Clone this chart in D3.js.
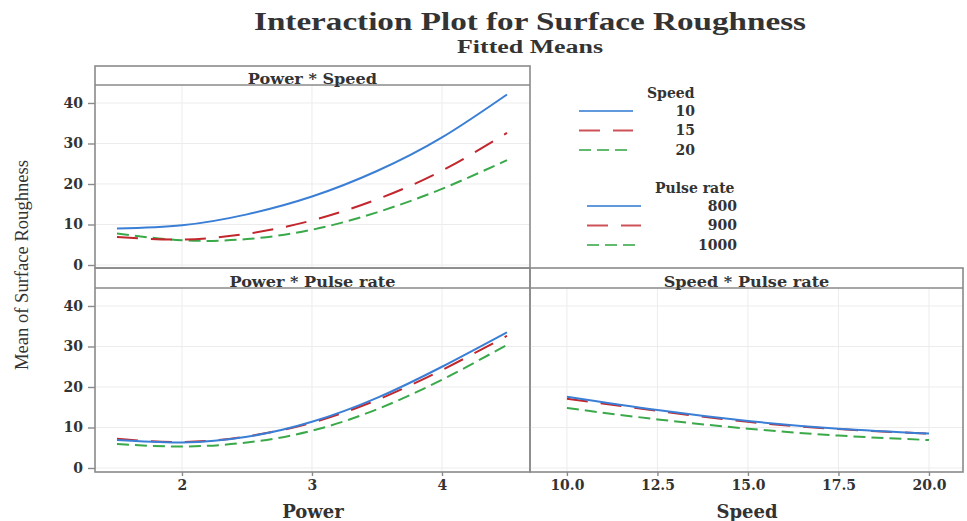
<!DOCTYPE html>
<html>
<head>
<meta charset="utf-8">
<script src="https://cdn.jsdelivr.net/npm/d3@7"></script>
<style>
  body { margin: 0; background: #fff; }
</style>
</head>
<body>
<div id="vis"></div>
<script>
var width = 967;
var height = 521;

// data
var powerLevels = [1.5, 2, 2.5, 3, 3.5, 4, 4.5];
var speedLevels = [10, 12.5, 15, 17.5, 20];
var speedNames = ["10", "15", "20"];
var pulseNames = ["800", "900", "1000"];

var powerSpeed10 = [9.0, 9.8, 12.5, 16.9, 23.2, 31.5, 42.1];
var powerSpeed15 = [6.9, 6.3, 7.7, 11.0, 16.2, 23.3, 32.6];
var powerSpeed20 = [7.8, 6.1, 6.4, 8.7, 13.0, 18.8, 25.9];

var powerPulse800 = [6.9, 6.3, 7.7, 11.4, 17.3, 25.0, 33.5];
var powerPulse900 = [7.2, 6.4, 7.8, 11.2, 16.8, 24.2, 32.6];
var powerPulse1000 = [5.9, 5.3, 6.3, 9.2, 14.5, 21.8, 30.4];

var speedPulse800 = [17.6, 14.3, 11.6, 9.7, 8.5];
var speedPulse900 = [17.1, 14.1, 11.4, 9.6, 8.5];
var speedPulse1000 = [14.8, 12.0, 9.7, 8.0, 6.9];

var powerTicks = [2, 3, 4];
var speedTicks = [10, 12.5, 15, 17.5, 20];
var yTicks = [0, 10, 20, 30, 40];

var colors = ["#3a7fd5", "#c1272d", "#3aa94a"];
var dashes = [null, "21,13", "12,6"];
var frame = "#8a8a8a";
var serif = "'DejaVu Serif', serif";

var svg = d3.select("#vis")
  .append("svg")
  .attr("width", width)
  .attr("height", height)
  .attr("viewBox", [0, 0, width, height]);

// scales
var xPower = d3.scaleLinear().domain([1.331, 4.677]).range([95, 530]);
var xSpeed = d3.scaleLinear().domain([8.98, 20.94]).range([530, 963]);
var yTop = d3.scaleLinear().domain([-0.74, 44.44]).range([268, 85]);
var yBot = d3.scaleLinear().domain([-0.99, 44.44]).range([472, 288]);

var panels = [
  {name: "Power * Speed", x: xPower, y: yTop, top: 66, strip: 85, xs: powerLevels, xt: powerTicks,
   series: [powerSpeed20, powerSpeed15, powerSpeed10], order: [2, 1, 0]},
  {name: "Power * Pulse rate", x: xPower, y: yBot, top: 268, strip: 288, xs: powerLevels, xt: powerTicks,
   series: [powerPulse1000, powerPulse900, powerPulse800], order: [2, 1, 0]},
  {name: "Speed * Pulse rate", x: xSpeed, y: yBot, top: 268, strip: 288, xs: speedLevels, xt: speedTicks,
   series: [speedPulse1000, speedPulse900, speedPulse800], order: [2, 1, 0]}
];

panels.forEach(function(p) {
  var g = svg.append("g");
  var x0 = p.x.range()[0], x1 = p.x.range()[1];
  var yb = p.y.range()[0];

  // grid
  g.append("g")
    .selectAll("line")
    .data(p.xt)
    .enter()
    .append("line")
    .attr("x1", d => p.x(d)).attr("x2", d => p.x(d))
    .attr("y1", p.strip).attr("y2", yb)
    .attr("stroke", "#ececec");
  g.append("g")
    .selectAll("line")
    .data(yTicks)
    .enter()
    .append("line")
    .attr("x1", x0).attr("x2", x1)
    .attr("y1", d => p.y(d)).attr("y2", d => p.y(d))
    .attr("stroke", "#ececec");

  // curves
  var line = d3.line()
    .x((d, i) => p.x(p.xs[i]))
    .y(d => p.y(d))
    .curve(d3.curveNatural);

  g.append("g")
    .attr("fill", "none")
    .selectAll("path")
    .data(p.series)
    .enter()
    .append("path")
    .attr("d", d => line(d))
    .attr("stroke", (d, i) => colors[p.order[i]])
    .attr("stroke-dasharray", (d, i) => dashes[p.order[i]])
    .attr("stroke-width", 2);

  // frame and strip
  g.append("rect")
    .attr("x", x0).attr("y", p.top)
    .attr("width", x1 - x0).attr("height", yb - p.top)
    .attr("fill", "none")
    .attr("stroke", frame)
    .attr("stroke-width", 1.6);
  g.append("line")
    .attr("x1", x0).attr("x2", x1)
    .attr("y1", p.strip).attr("y2", p.strip)
    .attr("stroke", frame)
    .attr("stroke-width", 1.6);
  g.append("text")
    .attr("x", (x0 + x1) / 2)
    .attr("y", p.strip - 1)
    .attr("text-anchor", "middle")
    .style("font", "bold 14px " + serif)
    .attr("fill", "#333")
    .text(p.name)
    .each(function() {
      var w = this.getComputedTextLength();
      d3.select(this).attr("textLength", w * 1.15).attr("lengthAdjust", "spacingAndGlyphs");
    });
});

// axes
function styleAxis(sel) {
  sel.select(".domain").remove();
  sel.selectAll(".tick line").attr("stroke", frame).attr("stroke-width", 1.4);
  sel.selectAll(".tick text")
    .attr("fill", "#333")
    .style("font", "bold 14px " + serif);
}

svg.append("g")
  .attr("transform", "translate(95,0)")
  .call(d3.axisLeft(yTop).tickValues(yTicks).tickSize(7).tickPadding(5))
  .call(styleAxis);
svg.append("g")
  .attr("transform", "translate(95,0)")
  .call(d3.axisLeft(yBot).tickValues(yTicks).tickSize(7).tickPadding(5))
  .call(styleAxis);
svg.append("g")
  .attr("transform", "translate(0,472)")
  .call(d3.axisBottom(xPower).tickValues(powerTicks).tickFormat(d3.format("d")).tickSize(4).tickPadding(4))
  .call(styleAxis);
svg.append("g")
  .attr("transform", "translate(0,472)")
  .call(d3.axisBottom(xSpeed).tickValues(speedTicks).tickFormat(d3.format(".1f")).tickSize(4).tickPadding(4))
  .call(styleAxis);

// titles
svg.append("text")
  .attr("x", 530).attr("y", 30)
  .attr("text-anchor", "middle")
  .attr("fill", "#333")
  .attr("textLength", 552).attr("lengthAdjust", "spacingAndGlyphs")
  .style("font", "bold 25px 'Liberation Serif', serif")
  .text("Interaction Plot for Surface Roughness");
svg.append("text")
  .attr("x", 530).attr("y", 53)
  .attr("text-anchor", "middle")
  .attr("fill", "#333")
  .attr("textLength", 146).attr("lengthAdjust", "spacingAndGlyphs")
  .style("font", "bold 18px 'Liberation Serif', serif")
  .text("Fitted Means");
svg.append("text")
  .attr("transform", "translate(28,265) rotate(-90)")
  .attr("text-anchor", "middle")
  .attr("fill", "#333")
  .attr("textLength", 210).attr("lengthAdjust", "spacingAndGlyphs")
  .style("font", "19px 'Liberation Serif', serif")
  .text("Mean of Surface Roughness");
svg.append("text")
  .attr("x", 313).attr("y", 518)
  .attr("text-anchor", "middle")
  .attr("fill", "#333")
  .style("font", "bold 18px " + serif)
  .text("Power");
svg.append("text")
  .attr("x", 747).attr("y", 518)
  .attr("text-anchor", "middle")
  .attr("fill", "#333")
  .style("font", "bold 18px " + serif)
  .text("Speed");

// legends
function legend(title, names, lx0, lx1, ly, tx, labelEnd) {
  var g = svg.append("g");
  g.append("text")
    .attr("x", tx).attr("y", ly + 5)
    .attr("fill", "#333")
    .style("font", "bold 14px " + serif)
    .text(title);
  var rows = g.selectAll("g.row")
    .data(names)
    .enter()
    .append("g")
    .attr("transform", (d, i) => "translate(0," + (ly + 18 + i * 19.5) + ")");
  rows.append("line")
    .attr("x1", lx0).attr("x2", lx1)
    .attr("stroke", (d, i) => colors[i])
    .attr("stroke-dasharray", (d, i) => dashes[i])
    .attr("stroke-width", 2.2)
    .attr("stroke-opacity", 0.8);
  rows.append("text")
    .attr("x", labelEnd)
    .attr("dy", "0.35em")
    .attr("text-anchor", "end")
    .attr("fill", "#333")
    .style("font", "bold 14px " + serif)
    .text(d => d);
}
legend("Speed", speedNames, 579, 633, 93, 647, 695);
legend("Pulse rate", pulseNames, 587, 641, 188, 655, 737);
</script>
</body>
</html>
